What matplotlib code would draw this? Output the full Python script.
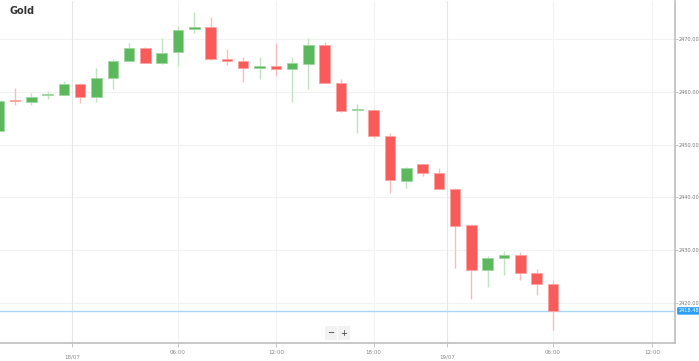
import matplotlib
matplotlib.use("Agg")
import matplotlib.pyplot as plt
import numpy as np

# Hourly OHLC values
opens  = [2452.6, 2458.4, 2458.1, 2459.3, 2459.4, 2461.5, 2459.0, 2462.6, 2465.8, 2468.3,
          2465.5, 2467.5, 2471.9, 2472.3, 2466.2, 2465.8, 2464.6, 2464.9, 2464.3, 2465.3,
          2468.9, 2461.7, 2456.5, 2456.6, 2451.6, 2443.1, 2446.3, 2444.6, 2441.6, 2434.8,
          2426.3, 2428.5, 2429.1, 2425.7, 2423.6]
highs  = [2458.6, 2460.7, 2459.8, 2460.2, 2462.0, 2461.6, 2464.5, 2466.2, 2469.2, 2468.4,
          2470.2, 2472.5, 2475.1, 2474.2, 2468.1, 2466.6, 2466.6, 2469.2, 2466.6, 2470.2,
          2469.4, 2462.4, 2457.7, 2456.7, 2452.2, 2445.8, 2446.4, 2445.6, 2441.7, 2434.9,
          2428.9, 2429.9, 2429.7, 2426.4, 2424.4]
lows   = [2452.0, 2457.5, 2457.5, 2458.6, 2459.3, 2457.9, 2458.1, 2460.5, 2465.8, 2465.4,
          2465.3, 2464.9, 2471.1, 2466.1, 2465.1, 2461.9, 2462.4, 2463.0, 2458.1, 2460.5,
          2461.6, 2456.2, 2452.2, 2451.3, 2440.8, 2441.8, 2444.0, 2441.5, 2426.6, 2420.8,
          2423.0, 2425.3, 2424.4, 2421.5, 2414.9]
closes = [2458.3, 2458.2, 2459.0, 2459.6, 2461.5, 2459.0, 2462.6, 2465.8, 2468.3, 2465.5,
          2467.3, 2471.7, 2472.3, 2466.2, 2465.8, 2464.5, 2464.9, 2464.3, 2465.5, 2468.9,
          2461.7, 2456.4, 2456.6, 2451.6, 2443.3, 2445.6, 2444.6, 2441.6, 2434.6, 2426.3,
          2428.5, 2429.1, 2425.7, 2423.6, 2418.5]

tick_labels = ["18/07", "06:00", "12:00", "18:00", "19/07", "06:00", "12:00"]
tick_pos    = [4.5, 11.0, 17.0, 23.0, 27.5, 34.0, 40.1]
day_ticks   = [True, False, False, False, True, False, False]
y_ticks     = [2420, 2430, 2440, 2450, 2460, 2470]
last_price  = 2418.48

W, H = 699, 361
fig = plt.figure(figsize=(W / 100, H / 100), dpi=100)
ax = fig.add_axes([0, 18 / H, 675 / W, 1 - 19 / H])

green, green_l = "#5cb85c", "#9fd89f"
red, red_l = "#f95a5a", "#fba3a3"

x = np.arange(len(opens))
for i in x:
    o, h, l, c = opens[i], highs[i], lows[i], closes[i]
    up = c >= o
    col = green if up else red
    wcol = "#bfe4bf" if up else "#f9bcbc"
    ax.vlines(i, l, h, color=wcol, lw=1.0, zorder=2)
    bottom = min(o, c)
    height = max(abs(c - o), 0.25)
    ax.bar(i, height, bottom=bottom, width=0.65, color=col,
           edgecolor=(green_l if up else red_l), linewidth=0.6, zorder=3)

ax.set_xlim(0.08, 41.49)
ax.set_ylim(2412.4, 2477.2)

# grid
for yv in y_ticks:
    ax.axhline(yv, color="#f2f2f2", lw=0.8, zorder=0)
for p, d in zip(tick_pos, day_ticks):
    ax.axvline(p, color=("#e6e6e6" if d else "#f3f3f3"), lw=0.8, zorder=0)

# current price line
ax.axhline(last_price, color="#a9d6f5", lw=1.0, zorder=1)

for s in ["left", "top"]:
    ax.spines[s].set_visible(False)
for s in ["right", "bottom"]:
    ax.spines[s].set_color("#bdbdbd")
    ax.spines[s].set_linewidth(1.2)

ax.yaxis.tick_right()
ax.set_yticks(y_ticks)
ax.set_yticklabels([f"{v:.2f}" for v in y_ticks])
ax.tick_params(axis="y", length=2, width=0.6, color="#bdbdbd", labelsize=3.6,
               labelcolor="#777777", pad=1)

ax.set_xticks(tick_pos)
ax.set_xticklabels([])
ax.tick_params(axis="x", length=3, width=0.6, color="#bdbdbd")
for p, lab, d in zip(tick_pos, tick_labels, day_ticks):
    ax.text(p, -0.02 if not d else -0.035, lab, transform=ax.get_xaxis_transform(),
            ha="center", va="top", fontsize=4.0, color="#888888")

# price label
ax.text(1.005, last_price, f"{last_price:.2f}", transform=ax.get_yaxis_transform(),
        ha="left", va="center", fontsize=3.6, color="white",
        bbox=dict(boxstyle="round,pad=0.25,rounding_size=0.2", fc="#2a9df4", ec="none"),
        clip_on=False)

# title
fig.text(10 / W, 1 - 11 / H, "Gold", fontsize=7, fontweight="bold", color="#333333",
         ha="left", va="center")

# zoom buttons
for xx, t in [(331, "\u2212"), (344, "+")]:
    fig.text(xx / W, 1 - 333 / H, t, fontsize=6, color="#333333", ha="center", va="center",
             bbox=dict(boxstyle="square,pad=0.25", fc="#f2f2f2", ec="none"))

fig.savefig("out.png", dpi=100)
